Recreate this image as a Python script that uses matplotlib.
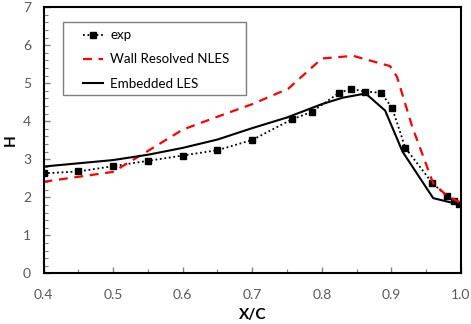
import numpy as np
import matplotlib.pyplot as plt
from matplotlib.ticker import MultipleLocator
from matplotlib.patches import Rectangle

plt.rcParams['font.family'] = ['Lato', 'DejaVu Sans']

# experiment
x_exp = [0.4, 0.45, 0.5, 0.55, 0.6, 0.65, 0.7, 0.757, 0.786, 0.825, 0.842,
         0.8625, 0.885, 0.901, 0.92, 0.959, 0.98, 0.99, 0.997]
h_exp = [2.63, 2.68, 2.82, 2.96, 3.10, 3.24, 3.51, 4.05, 4.25, 4.75, 4.85,
         4.78, 4.75, 4.35, 3.30, 2.37, 2.03, 1.90, 1.83]

# wall resolved NLES
x_nles = [0.4, 0.5, 0.55, 0.6, 0.65, 0.7, 0.752, 0.8, 0.845, 0.898, 0.908,
          0.93, 0.96, 0.98, 1.0]
h_nles = [2.41, 2.67, 3.22, 3.78, 4.12, 4.45, 4.86, 5.65, 5.72, 5.45, 5.17,
          3.85, 2.37, 2.04, 1.85]

# embedded LES
x_les = [0.4, 0.5, 0.55, 0.6, 0.65, 0.7, 0.75, 0.8, 0.83, 0.863, 0.891,
         0.916, 0.96, 1.0]
h_les = [2.81, 2.98, 3.12, 3.30, 3.52, 3.82, 4.10, 4.45, 4.62, 4.73, 4.28,
         3.20, 1.98, 1.80]

fig = plt.figure(figsize=(4.71, 3.24), dpi=100)
ax = fig.add_axes([0.0924, 0.156, 0.8864, 0.822])

ax.plot(x_exp, h_exp, color='black', ls=(0, (1, 1.5)), lw=1.3,
        marker='s', ms=3.8, label='exp')
ax.plot(x_nles, h_nles, color='#ff0000', ls=(0, (4, 3)), lw=1.6,
        label='Wall Resolved NLES')
ax.plot(x_les, h_les, color='black', lw=1.5, label='Embedded LES')

ax.set_xlim(0.4, 1.0)
ax.set_ylim(0, 7)
ax.xaxis.set_major_locator(MultipleLocator(0.1))
ax.xaxis.set_minor_locator(MultipleLocator(0.05))
ax.yaxis.set_major_locator(MultipleLocator(1))
ax.yaxis.set_minor_locator(MultipleLocator(0.2))
ax.xaxis.set_major_formatter(plt.FuncFormatter(lambda v, p: '%.1f' % v))
ax.tick_params(which='both', direction='in', color='#808080',
               labelcolor='#595959', labelsize=10)
ax.tick_params(which='major', length=4, width=1)
ax.tick_params(which='minor', length=3, width=0.8)
ax.tick_params(axis='x', which='major', pad=11)
ax.tick_params(axis='y', which='major', pad=9)

for s in ax.spines.values():
    s.set_linewidth(1.5)
    s.set_color('black')

ax.set_xlabel('X/C', fontweight='bold', fontsize=11, labelpad=5)
ax.set_ylabel('H', fontweight='bold', fontsize=11, labelpad=4)

# legend frame drawn separately (wide side padding)
ax.add_patch(Rectangle((0.0467, 0.670), 0.438, 0.274, transform=ax.transAxes,
                       facecolor='white', edgecolor='#7f7f7f', lw=1.0,
                       zorder=4))
leg = ax.legend(loc='upper left', bbox_to_anchor=(0.094, 0.917), fontsize=9.6,
                frameon=False, handlelength=1.5, handletextpad=0.55,
                borderpad=0, labelspacing=0.92, borderaxespad=0)
leg.set_zorder(5)

fig.savefig('out.png', dpi=100)
